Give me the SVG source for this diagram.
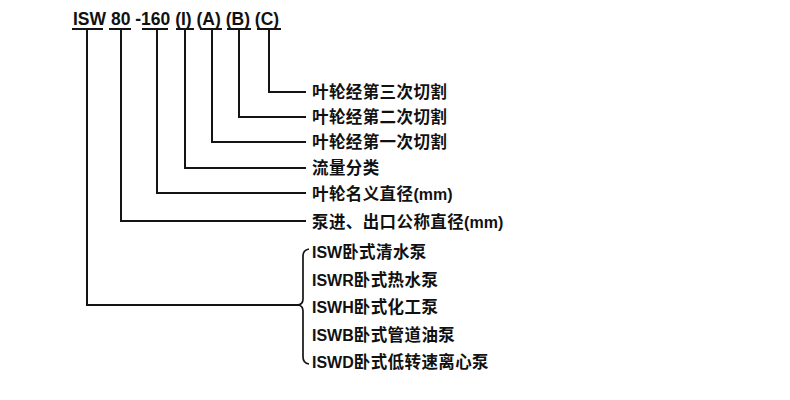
<svg xmlns="http://www.w3.org/2000/svg" width="790" height="400" viewBox="0 0 790 400">
<style>
.ln{stroke:#141414;stroke-width:2;fill:none;stroke-linecap:square}
.br{stroke:#141414;stroke-width:1.7;fill:none}
.hd{font-family:"Liberation Sans",Arial,sans-serif;font-weight:bold;font-size:17.5px;fill:#111}
.lb{font-family:"Liberation Sans","Noto Sans CJK SC",sans-serif;font-size:16.5px;fill:#111;letter-spacing:0.4px}
.lb .en{font-family:"Liberation Sans",Arial,sans-serif;font-weight:bold;font-size:16px;letter-spacing:0}
.lb .cn{font-family:"Noto Sans CJK SC",sans-serif;font-weight:bold}
</style>
<rect width="790" height="400" fill="#ffffff"/>
<g id="header">
<text class="hd" x="73" y="25">ISW 80 -160 (I) (A) (B) (C)</text>
</g>
<g id="connectors">
<path class="ln" d="M73 29H102M87 29V305H298"/>
<path class="ln" d="M110 29H130M121 29V221H305"/>
<path class="ln" d="M143 29H167M157 29V193H305"/>
<path class="ln" d="M177 29H193M185 29V168H305"/>
<path class="ln" d="M201 29H221M212 29V142H305"/>
<path class="ln" d="M228 29H250M239 29V117H305"/>
<path class="ln" d="M258 29H280M269 29V92H305"/>
<path class="br" d="M309 249Q303 250 303 256V299Q303 305 297 305Q303 305 303 311V357Q303 363 309 364"/>
</g>
<g id="n-c"><text class="lb" x="312" y="98"><tspan class="cn">叶轮经第三次切割</tspan></text></g>
<g id="n-b"><text class="lb" x="312" y="123"><tspan class="cn">叶轮经第二次切割</tspan></text></g>
<g id="n-a"><text class="lb" x="312" y="148"><tspan class="cn">叶轮经第一次切割</tspan></text></g>
<g id="n-i"><text class="lb" x="312" y="174"><tspan class="cn">流量分类</tspan></text></g>
<g id="n-160"><text class="lb" x="312" y="200"><tspan class="cn">叶轮名义直径</tspan><tspan class="en">(mm)</tspan></text></g>
<g id="n-80"><text class="lb" x="312" y="228"><tspan class="cn">泵进、出口公称直径</tspan><tspan class="en">(mm)</tspan></text></g>
<g id="n-isw">
<text class="lb" x="312" y="258"><tspan class="en">ISW</tspan><tspan class="cn">卧式清水泵</tspan></text>
<text class="lb" x="312" y="285.5"><tspan class="en">ISWR</tspan><tspan class="cn">卧式热水泵</tspan></text>
<text class="lb" x="312" y="313"><tspan class="en">ISWH</tspan><tspan class="cn">卧式化工泵</tspan></text>
<text class="lb" x="312" y="340.5"><tspan class="en">ISWB</tspan><tspan class="cn">卧式管道油泵</tspan></text>
<text class="lb" x="312" y="368"><tspan class="en">ISWD</tspan><tspan class="cn">卧式低转速离心泵</tspan></text>
</g>
</svg>
